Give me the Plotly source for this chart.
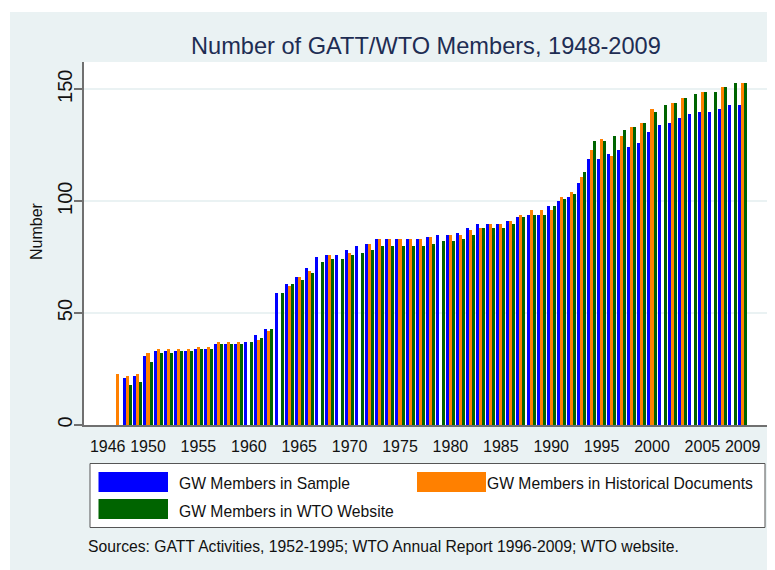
import plotly.graph_objects as go

years = list(range(1947, 2010))

sample = [None, 21, 22, 31, 33, 33, 33, 33, 34, 34,
          36, 36, 36, 37, 40, 43, 59, 63, 66, 70,
          75, 76, 76, 78, 80, 81, 83, 83, 83, 83,
          83, 84, 85, 85, 86, 88, 90, 90, 90, 91,
          93, 94, 94, 98, 100, 102, 108, 119, 119, 121,
          123, 124, 126, 131, 134, 135, 137, 139, 140, 140,
          141, 143, 143]

historical = [23, 22, 23, 32, 34, 34, 34, 34, 35, 35,
              37, 37, 37, None, 38, 42, None, 62, 66, 69,
              None, 76, None, 77, None, 81, 83, 83, 83, 83,
              83, 84, None, 85, 85, 87, 88, 90, 90, 91,
              94, 96, 96, 96, 102, 104, 111, 123, 128, 120,
              129, 133, 135, 141, None, 144, 146, None, 149, None,
              151, None, 153]

wto = [None, 18, 19, 28, 32, 32, 33, 33, 34, 34,
       36, 36, 36, 37, 39, 43, 59, 63, 65, 68,
       73, 74, 74, 76, 77, 78, 80, 80, 80, 80,
       80, 81, 82, 82, 83, 85, 88, 88, 88, 90,
       93, 94, 94, 98, 101, 103, 113, 127, 127, 129,
       132, 133, 135, 140, 143, 144, 146, 148, 149, 149,
       151, 153, 153]

series_names = ["GW Members in Sample", "GW Members in Historical Documents",
                "GW Members in WTO Website"]
series_colors = ["#0000FF", "#FF8000", "#006400"]

x_tickvals = [1946, 1950, 1955, 1960, 1965, 1970, 1975, 1980, 1985,
              1990, 1995, 2000, 2005, 2009]
y_tickvals = [0, 50, 100, 150]

FONT = "Liberation Sans, Arial, sans-serif"
OFF = 8                      # browser body margin
W, H = 775 - OFF, 570 - OFF
ML, MR, MT, MB = 84 - OFF, 7, 62 - OFF, 145
PW = W - ML - MR
PH = H - MT - MB


def px(xr):
    return (xr - OFF - ML) / PW


def py(yr):
    return (H - MB - (yr - OFF)) / PH


fig = go.Figure()
offsets = [-0.45, -0.15, 0.15]
for name, vals, color, off in zip(series_names, [sample, historical, wto],
                                  series_colors, offsets):
    fig.add_trace(go.Bar(x=years, y=vals, name=name, width=0.3, offset=off,
                         marker=dict(color=color, line=dict(width=0)),
                         showlegend=False))

shapes = []
# white outer border (top and left)
shapes.append(dict(type="rect", xref="paper", yref="paper", x0=px(0), x1=px(800),
                   y0=py(12), y1=py(0), fillcolor="white", line=dict(width=0),
                   layer="below"))
shapes.append(dict(type="rect", xref="paper", yref="paper", x0=px(0), x1=px(10),
                   y0=py(600), y1=py(0), fillcolor="white", line=dict(width=0),
                   layer="below"))
# legend box
shapes.append(dict(type="rect", xref="paper", yref="paper", x0=px(90), x1=px(765),
                   y0=py(527.5), y1=py(463.5), fillcolor="white",
                   line=dict(color="#555555", width=1)))
swatches = [(98.5, 168, 472, 492), (417, 486, 472, 492), (98.5, 168, 499, 519)]
for (a, b, c, d), col in zip(swatches, series_colors):
    shapes.append(dict(type="rect", xref="paper", yref="paper", x0=px(a), x1=px(b),
                       y0=py(d), y1=py(c), fillcolor=col, line=dict(width=0)))

LEG = 15.7
annotations = [
    dict(text="Number of GATT/WTO Members, 1948-2009", xref="paper", yref="paper",
         x=0.5, y=py(46), xanchor="center", yanchor="middle", showarrow=False,
         font=dict(family=FONT, size=23.6, color="#1E2D53")),
    dict(text="Number", xref="paper", yref="paper", x=px(36), y=py(231),
         xanchor="center", yanchor="middle", textangle=-90, showarrow=False,
         font=dict(family=FONT, size=16, color="#111111")),
    dict(text=series_names[0], xref="paper", yref="paper", x=px(176.5), y=py(483),
         xanchor="left", yanchor="middle", showarrow=False,
         font=dict(family=FONT, size=LEG, color="#111111")),
    dict(text=series_names[1], xref="paper", yref="paper", x=px(484.5), y=py(483),
         xanchor="left", yanchor="middle", showarrow=False,
         font=dict(family=FONT, size=LEG, color="#111111")),
    dict(text=series_names[2], xref="paper", yref="paper", x=px(176.5), y=py(511),
         xanchor="left", yanchor="middle", showarrow=False,
         font=dict(family=FONT, size=LEG, color="#111111")),
    dict(text="Sources: GATT Activities, 1952-1995; WTO Annual Report 1996-2009; WTO website.",
         xref="paper", yref="paper", x=px(86), y=py(546), xanchor="left",
         yanchor="middle", showarrow=False,
         font=dict(family=FONT, size=LEG, color="#111111")),
]

fig.update_layout(
    width=W, height=H,
    margin=dict(l=ML, r=MR, t=MT, b=MB, pad=0, autoexpand=False),
    paper_bgcolor="#EAF2F3",
    plot_bgcolor="white",
    barmode="overlay",
    bargap=0,
    shapes=shapes,
    annotations=annotations,
    font=dict(family=FONT, color="#111111"),
    xaxis=dict(range=[1943.651, 2011.508], tickvals=x_tickvals,
               ticks="", showline=True, linecolor="#707070", linewidth=1.5,
               showgrid=False, zeroline=False, ticklabelstandoff=6,
               automargin=False,
               tickfont=dict(family=FONT, size=16, color="#111111")),
    yaxis=dict(range=[0, 162.2], tickvals=y_tickvals, tickangle=-90,
               ticks="outside", ticklen=8, tickwidth=1.5, tickcolor="#707070",
               showline=True, linecolor="#707070", linewidth=1.5,
               showgrid=True, gridcolor="#EAF2F3", gridwidth=1.5,
               zeroline=False, ticklabelstandoff=-6, automargin=False,
               tickfont=dict(family=FONT, size=20, color="#111111")),
)

fig.write_html("out.html")
